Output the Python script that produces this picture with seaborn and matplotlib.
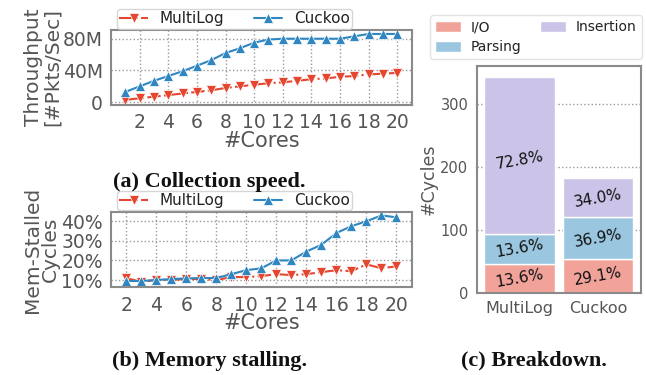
import numpy as np
import pandas as pd
import matplotlib
matplotlib.use("Agg")
import matplotlib.pyplot as plt
import seaborn as sns

# ---- data ----
cores_a = list(range(1, 21))
multilog_tp = [3, 5, 7, 9, 11, 13, 15, 18, 20, 22, 24, 25, 27, 29, 30, 32, 33, 35, 36, 37]
cuckoo_tp = [13, 20, 27, 33, 39, 46, 53, 62, 68, 75, 79, 80, 80, 80, 80, 80, 83, 86, 86, 86]

cores_b = list(range(2, 21))
multilog_mem = [11, 9, 10, 10, 10.5, 10.5, 10, 11.5, 11.5, 12, 13, 12.5, 13, 14, 15, 14.5, 18, 16, 17]
cuckoo_mem = [9.5, 9.5, 10, 10.5, 10.8, 11, 11, 13, 15, 16, 20, 20, 24.5, 28, 34, 37.5, 40, 43, 42]

systems = ["MultiLog", "Cuckoo"]
io_cycles = [46.6, 53.2]
parsing_cycles = [46.6, 67.5]
insertion_cycles = [250, 62.2]
io_pct = ["13.6%", "29.1%"]
parsing_pct = ["13.6%", "36.9%"]
insertion_pct = ["72.8%", "34.0%"]

# ---- style ----
sns.set_style("white")
plt.rcParams["font.family"] = ["DejaVu Sans"]
RED = "#e5462f"
BLUE = "#2f86c0"
C_IO = "#f1a39a"
C_PARSE = "#9ac6df"
C_INS = "#cbc4e8"
TICKC = "#555555"
SPINEC = "#8a8a8a"

fig = plt.figure(figsize=(6.46, 3.75), dpi=100)
ax1 = fig.add_axes([0.172, 0.72, 0.465, 0.20])
ax2 = fig.add_axes([0.172, 0.234, 0.465, 0.201])
ax3 = fig.add_axes([0.738, 0.219, 0.254, 0.605])


def style_axes(ax, tick_size=13.5, xgrid=True):
    for s in ax.spines.values():
        s.set_color(SPINEC)
        s.set_linewidth(1.5)
    ax.tick_params(axis="both", colors=TICKC, labelcolor=TICKC, labelsize=tick_size,
                   length=4, width=1.2, pad=2)
    ax.grid(True, axis="y", linestyle=":", color="#999999", linewidth=1)
    if xgrid:
        ax.grid(True, axis="x", linestyle=":", color="#999999", linewidth=1)
    ax.set_axisbelow(True)


def line_legend(ax):
    leg = ax.legend(loc="lower left", bbox_to_anchor=(0.02, 1.02), ncol=2, fontsize=11,
                    frameon=True, borderpad=0.15, handlelength=1.85, columnspacing=1.9,
                    handletextpad=0.8, borderaxespad=0)
    leg.get_frame().set_edgecolor("#cccccc")
    for t in leg.get_texts():
        t.set_color("#222222")


# ---- (a) throughput ----
df_a = pd.DataFrame({"cores": cores_a * 2,
                     "val": multilog_tp + cuckoo_tp,
                     "sys": ["MultiLog"] * len(cores_a) + ["Cuckoo"] * len(cores_a)})
sns.lineplot(data=df_a[df_a.sys == "MultiLog"], x="cores", y="val", ax=ax1, color=RED,
             marker="v", markersize=7, linestyle="-.", linewidth=1.5, label="MultiLog",
             markeredgewidth=0.5)
sns.lineplot(data=df_a[df_a.sys == "Cuckoo"], x="cores", y="val", ax=ax1, color=BLUE,
             marker="^", markersize=7, linestyle="-", linewidth=1.5, label="Cuckoo",
             markeredgewidth=0.5)
ax1.set_xlim(0, 21)
ax1.set_ylim(-3.5, 91)
ax1.set_xticks(range(2, 21, 2))
ax1.set_yticks([0, 40, 80])
ax1.set_yticklabels(["0", "40M", "80M"])
ax1.set_xlabel("#Cores", fontsize=15, color=TICKC, labelpad=-1)
ax1.set_ylabel("Throughput\n[#Pkts/Sec]", fontsize=14.5, color=TICKC, labelpad=1, linespacing=0.95)
style_axes(ax1)
line_legend(ax1)

# ---- (b) memory stalling ----
df_b = pd.DataFrame({"cores": cores_b * 2,
                     "val": multilog_mem + cuckoo_mem,
                     "sys": ["MultiLog"] * len(cores_b) + ["Cuckoo"] * len(cores_b)})
sns.lineplot(data=df_b[df_b.sys == "MultiLog"], x="cores", y="val", ax=ax2, color=RED,
             marker="v", markersize=7, linestyle="-.", linewidth=1.5, label="MultiLog",
             markeredgewidth=0.5)
sns.lineplot(data=df_b[df_b.sys == "Cuckoo"], x="cores", y="val", ax=ax2, color=BLUE,
             marker="^", markersize=7, linestyle="-", linewidth=1.5, label="Cuckoo",
             markeredgewidth=0.5)
ax2.set_xlim(1, 21)
ax2.set_ylim(6.3, 44.8)
ax2.set_xticks(range(2, 21, 2))
ax2.set_yticks([10, 20, 30, 40])
ax2.set_yticklabels(["10%", "20%", "30%", "40%"])
ax2.set_xlabel("#Cores", fontsize=15, color=TICKC, labelpad=-1)
ax2.set_ylabel("Mem-Stalled\nCycles", fontsize=14.5, color=TICKC, labelpad=1, linespacing=0.95)
style_axes(ax2)
line_legend(ax2)

# ---- (c) breakdown ----
io_arr = np.array(io_cycles)
pa_arr = np.array(parsing_cycles)
in_arr = np.array(insertion_cycles)
sns.barplot(x=systems, y=io_cycles, ax=ax3, color=C_IO, width=0.9, label="I/O",
            saturation=1)
sns.barplot(x=systems, y=parsing_cycles, ax=ax3, color=C_PARSE, width=0.9, label="Parsing",
            bottom=io_arr, saturation=1)
sns.barplot(x=systems, y=insertion_cycles, ax=ax3, color=C_INS, width=0.9, label="Insertion",
            bottom=io_arr + pa_arr, saturation=1)
for i in range(len(systems)):
    ax3.text(i, io_arr[i] / 2, io_pct[i], ha="center", va="center", fontsize=11,
             rotation=10, color="#111111")
    ax3.text(i, io_arr[i] + pa_arr[i] / 2, parsing_pct[i], ha="center", va="center",
             fontsize=11, rotation=10, color="#111111")
    ax3.text(i, io_arr[i] + pa_arr[i] + in_arr[i] * 0.47, insertion_pct[i], ha="center",
             va="center", fontsize=11, rotation=10, color="#111111")
ax3.set_ylim(0, 360)
ax3.set_xlim(-0.545, 1.545)
ax3.set_yticks([0, 100, 200, 300])
ax3.set_ylabel("#Cycles", fontsize=12.5, color=TICKC, labelpad=2)
style_axes(ax3, tick_size=10.5, xgrid=False)
ax3.tick_params(axis="x", labelsize=11.5)
leg3 = ax3.legend(loc="lower center", bbox_to_anchor=(0.36, 1.03), ncol=2, fontsize=10,
                  frameon=True, borderpad=0.35, handlelength=1.9, handleheight=0.85,
                  columnspacing=1.3, handletextpad=0.7, borderaxespad=0, labelspacing=0.45)
leg3.get_frame().set_edgecolor("#dddddd")
for t in leg3.get_texts():
    t.set_color("#222222")

# ---- captions ----
cap = dict(fontsize=16, fontweight="bold", family=["Liberation Serif", "DejaVu Serif"],
           ha="center", va="center", color="#111111")
fig.text(0.324, 0.515, "(a) Collection speed.", **cap)
fig.text(0.325, 0.037, "(b) Memory stalling.", **cap)
fig.text(0.827, 0.04, "(c) Breakdown.", **cap)

fig.savefig("out.png", dpi=100)
